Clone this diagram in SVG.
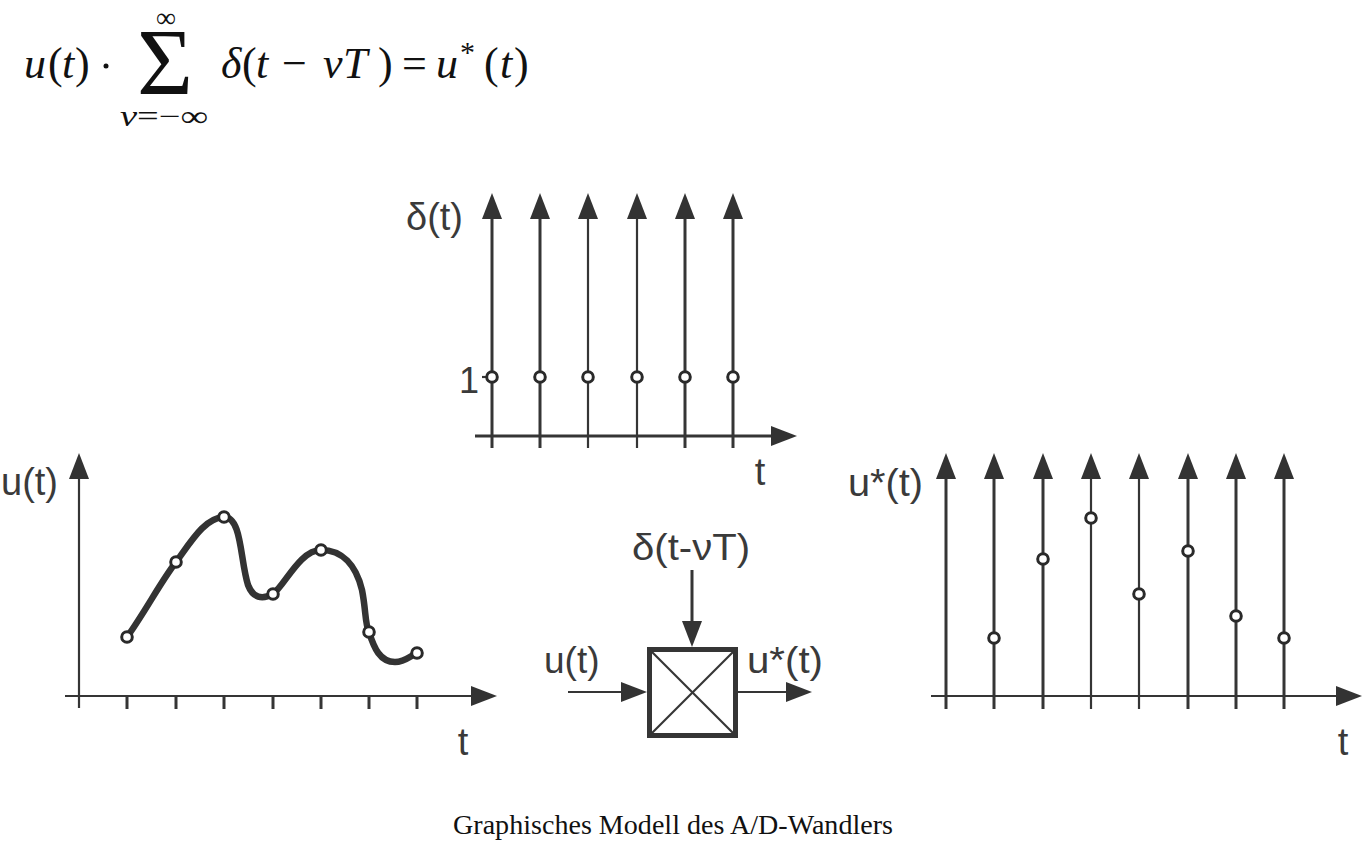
<svg xmlns="http://www.w3.org/2000/svg" width="1362" height="855" viewBox="0 0 1362 855">
<defs>
<marker id="ah" markerUnits="userSpaceOnUse" markerWidth="26" markerHeight="20" refX="14" refY="10" orient="auto" viewBox="0 0 26 20"><path d="M0,0 L26,10 L0,20 z" fill="#333"/></marker>
</defs>
<style>
.ln{stroke:#353535;stroke-width:3;fill:none}
.th{stroke:#353535;stroke-width:2.2;fill:none}
.ar{stroke:#353535;stroke-width:3;fill:none;marker-end:url(#ah)}
.art{stroke:#353535;stroke-width:2.2;fill:none;marker-end:url(#ah)}
.dot{fill:#fff;stroke:#2a2a2a;stroke-width:3}
.lab{font-family:"Liberation Sans",Arial,sans-serif;fill:#3a3a3a}
.tex{font-family:"Liberation Serif","Times New Roman",serif;fill:#111}
.it{font-style:italic}
</style>
<rect width="1362" height="855" fill="#fff"/>

<g id="formula">
<text class="tex" y="78" font-size="44"><tspan class="it" x="24">u</tspan><tspan x="48">(</tspan><tspan class="it" x="62">t</tspan><tspan x="75">)</tspan></text>
<circle cx="106" cy="66" r="2.5" fill="#111"/>
<text class="tex" x="137" y="95" font-size="95" textLength="56" lengthAdjust="spacingAndGlyphs">Σ</text>
<text class="tex" x="166" y="27" font-size="28" text-anchor="middle">∞</text>
<text class="tex" x="120" y="126" font-size="29" textLength="88" lengthAdjust="spacingAndGlyphs"><tspan class="it">ν</tspan>=−∞</text>
<text class="tex" y="78" font-size="44"><tspan class="it" x="221">δ</tspan><tspan x="242">(</tspan><tspan class="it" x="256">t</tspan><tspan x="282">−</tspan><tspan class="it" x="323">ν</tspan><tspan class="it" x="343">T</tspan><tspan x="378">)</tspan><tspan x="402">=</tspan><tspan class="it" x="436">u</tspan><tspan x="460" y="62" font-size="30">*</tspan><tspan x="484" y="78">(</tspan><tspan class="it" x="500">t</tspan><tspan x="514">)</tspan></text>
</g>

<g id="delta-chart">
<g id="delta-axis">
<line class="ar" x1="475" y1="436" x2="785" y2="436"/>
<line class="th" x1="482" y1="377" x2="492" y2="377"/>
</g>
<g id="delta-impulses">
<line class="ar" x1="492" y1="448" x2="492" y2="205"/>
<line class="ar" x1="540" y1="448" x2="540" y2="205"/>
<line class="art" x1="588" y1="448" x2="588" y2="205"/>
<line class="art" x1="637" y1="448" x2="637" y2="205"/>
<line class="ar" x1="685" y1="448" x2="685" y2="205"/>
<line class="ar" x1="733" y1="448" x2="733" y2="205"/>
<circle class="dot" cx="492" cy="377" r="5.3"/>
<circle class="dot" cx="540" cy="377" r="5.3"/>
<circle class="dot" cx="588" cy="377" r="5.3"/>
<circle class="dot" cx="637" cy="377" r="5.3"/>
<circle class="dot" cx="685" cy="377" r="5.3"/>
<circle class="dot" cx="733" cy="377" r="5.3"/>
</g>
<text class="lab" x="406" y="230" font-size="38">δ(t)</text>
<text class="lab" x="479" y="393" font-size="36" text-anchor="end">1</text>
<text class="lab" x="760" y="485" font-size="38" text-anchor="middle">t</text>
</g>

<g id="u-chart">
<line class="art" x1="79" y1="708" x2="79" y2="465"/>
<line class="art" x1="65" y1="696" x2="485" y2="696"/>
<g class="ln">
<line x1="127" y1="696" x2="127" y2="709"/>
<line x1="176" y1="696" x2="176" y2="709"/>
<line x1="224" y1="696" x2="224" y2="709"/>
<line x1="273" y1="696" x2="273" y2="709"/>
<line x1="321" y1="696" x2="321" y2="709"/>
<line x1="369" y1="696" x2="369" y2="709"/>
<line x1="417" y1="696" x2="417" y2="709"/>
</g>
<path d="M127,637 C145,612 160,583 176,562 C192,540 205,518 224,517 C242,517 240,560 248,585 C253,598 262,600 273,594 C285,585 300,550 321,550 C342,550 356,565 362,590 C366,610 365,625 369,632 C374,648 380,662 395,662 C405,662 410,656 417,653" fill="none" stroke="#333" stroke-width="6.5" stroke-linecap="round"/>
<circle class="dot" cx="127" cy="637" r="5.3"/>
<circle class="dot" cx="176" cy="562" r="5.3"/>
<circle class="dot" cx="224" cy="517" r="5.3"/>
<circle class="dot" cx="273" cy="594" r="5.3"/>
<circle class="dot" cx="321" cy="550" r="5.3"/>
<circle class="dot" cx="369" cy="632" r="5.3"/>
<circle class="dot" cx="417" cy="653" r="5.3"/>
<text class="lab" x="1" y="495" font-size="38">u(t)</text>
<text class="lab" x="463" y="755" font-size="38" text-anchor="middle">t</text>
</g>

<g id="sampler">
<rect x="649.5" y="649.5" width="86" height="86" fill="#fff" stroke="#353535" stroke-width="5"/>
<line class="th" x1="652" y1="652" x2="733" y2="733"/>
<line class="th" x1="733" y1="652" x2="652" y2="733"/>
<text class="lab" x="691" y="560" font-size="37" text-anchor="middle" textLength="118" lengthAdjust="spacingAndGlyphs">δ(t-νT)</text>
<text class="lab" x="544" y="673" font-size="37">u(t)</text>
<text class="lab" x="747" y="673" font-size="37" textLength="76" lengthAdjust="spacingAndGlyphs">u*(t)</text>
</g>

<g id="connectors">
<line class="ar" x1="692" y1="570" x2="692" y2="635"/>
<line class="art" x1="568" y1="692" x2="635" y2="692"/>
<line class="art" x1="738" y1="692" x2="800" y2="692"/>
</g>

<g id="ustar-chart">
<line class="art" x1="931" y1="696" x2="1350" y2="696"/>
<line class="ar" x1="946" y1="709" x2="946" y2="465"/>
<line class="ar" x1="994" y1="709" x2="994" y2="465"/>
<line class="ar" x1="1043" y1="709" x2="1043" y2="465"/>
<line class="art" x1="1091" y1="709" x2="1091" y2="465"/>
<line class="art" x1="1139" y1="709" x2="1139" y2="465"/>
<line class="ar" x1="1188" y1="709" x2="1188" y2="465"/>
<line class="ar" x1="1236" y1="709" x2="1236" y2="465"/>
<line class="ar" x1="1284" y1="709" x2="1284" y2="465"/>
<circle class="dot" cx="994" cy="638" r="5.3"/>
<circle class="dot" cx="1043" cy="559" r="5.3"/>
<circle class="dot" cx="1091" cy="518" r="5.3"/>
<circle class="dot" cx="1139" cy="594" r="5.3"/>
<circle class="dot" cx="1188" cy="551" r="5.3"/>
<circle class="dot" cx="1236" cy="616" r="5.3"/>
<circle class="dot" cx="1284" cy="638" r="5.3"/>
<text class="lab" x="848" y="496" font-size="38" textLength="75" lengthAdjust="spacingAndGlyphs">u*(t)</text>
<text class="lab" x="1343" y="755" font-size="38" text-anchor="middle">t</text>
</g>

<text class="tex" x="453" y="834" font-size="28" textLength="440" lengthAdjust="spacingAndGlyphs">Graphisches Modell des A/D-Wandlers</text>
</svg>
